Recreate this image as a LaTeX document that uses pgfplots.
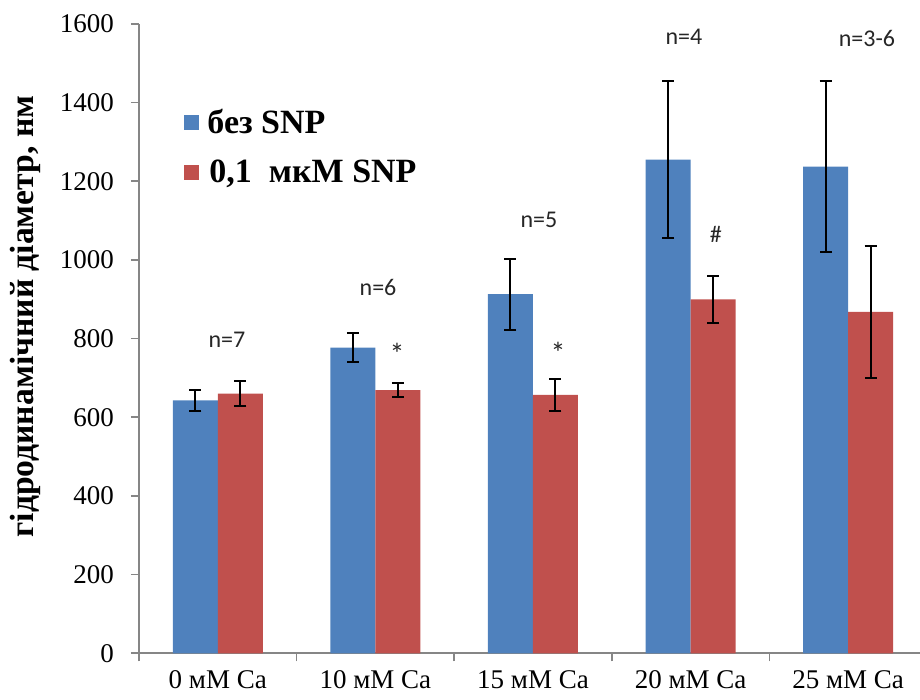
\documentclass[border=0pt]{standalone}
\usepackage{fontspec}
\setmainfont{Liberation Serif}
\newfontfamily\calibri{Carlito}
\usepackage{pgfplots}
\pgfplotsset{compat=1.18}
\definecolor{exblue}{HTML}{4F81BD}
\definecolor{exred}{HTML}{C0504D}
\definecolor{axgray}{HTML}{868686}
\begin{document}
\begin{tikzpicture}
\begin{axis}[
  at={(0,0)}, anchor=south west,
  scale only axis,
  width=390.5pt, height=314.7pt,
  xmin=-0.5, xmax=4.456,
  ymin=0, ymax=1600,
  ytick={0,200,...,1600},
  axis x line*=bottom, axis y line*=left,
  axis line style={draw=axgray, line width=0.8pt},
  tick align=outside,
  ytick style={draw=axgray, line width=0.8pt},
  major tick length=4pt,
  /pgf/number format/assume math mode=true,
  /pgf/number format/1000 sep={},
  scaled y ticks=false,
  yticklabel style={font=\fontsize{13.5}{15}\selectfont, xshift=-5pt},
  xtick={-0.5,0.5,1.5,2.5,3.5},
  xticklabels={},
  xtick style={draw=axgray, line width=0.8pt},
  extra x ticks={0,1,2,3,4},
  extra x tick labels={0 мМ Са,10 мМ Са,15 мМ Са,20 мМ Са,25 мМ Са},
  extra x tick style={major tick length=0pt, tick style={draw=none},
     xticklabel style={font=\fontsize{13.5}{15}\selectfont, yshift=-5pt}},
  every axis y label/.style={at={(axis description cs:-0.146,0.535)}, rotate=90, anchor=center,
     font=\fontsize{16.8}{18}\bfseries\selectfont},
  ylabel={гідродинамічний діаметр, нм},
  ybar=0pt, bar width=22.5pt,
  legend style={at={(axis description cs:0.05,0.878)}, anchor=north west, draw=none, fill=none,
     font=\fontsize{17}{19}\bfseries\selectfont, row sep=7.5pt,
     nodes={inner sep=2pt}},
  legend cell align=left,
  legend image code/.code={\fill[#1] (0pt,-3.75pt) rectangle (7.5pt,3.75pt);},
  clip=false,
]
\addplot+[fill=exblue, draw=none,
  error bars/.cd, y dir=both, y explicit,
  error bar style={line width=1pt, black},
  error mark options={rotate=90, mark size=3pt, line width=1pt, black}]
  coordinates {(0,643) +- (0,27) (1,777) +- (0,36) (2,913) +- (0,90) (3,1255) +- (0,200) (4,1237) +- (0,218)};
\addplot+[fill=exred, draw=none,
  error bars/.cd, y dir=both, y explicit,
  error bar style={line width=1pt, black},
  error mark options={rotate=90, mark size=3pt, line width=1pt, black}]
  coordinates {(0,660) +- (0,32) (1,669) +- (0,18) (2,657) +- (0,41) (3,900) +- (0,60) (4,868) +- (0,168)};
\legend{\hspace{2pt}без SNP,{\hspace{3pt}0,1\ \ мкМ SNP}}
\begin{scope}[every node/.style={font=\calibri\fontsize{12}{14}\selectfont, text=black!85}]
\node at (axis cs:0.058,796) {n=7};
\node at (axis cs:1.017,929) {n=6};
\node at (axis cs:2.038,1101) {n=5};
\node at (axis cs:2.958,1567) {n=4};
\node at (axis cs:4.119,1564) {n=3-6};
\node[font=\calibri\fontsize{15}{17}\selectfont] at (axis cs:1.137,760) {*};
\node[font=\calibri\fontsize{15}{17}\selectfont] at (axis cs:2.159,765) {*};
\node at (axis cs:3.161,1064) {\#};
\end{scope}
\end{axis}
\pgfresetboundingbox
\path[use as bounding box] (-69.5pt,-23.35pt) rectangle (390.5pt,326.65pt);
\end{tikzpicture}
\end{document}
